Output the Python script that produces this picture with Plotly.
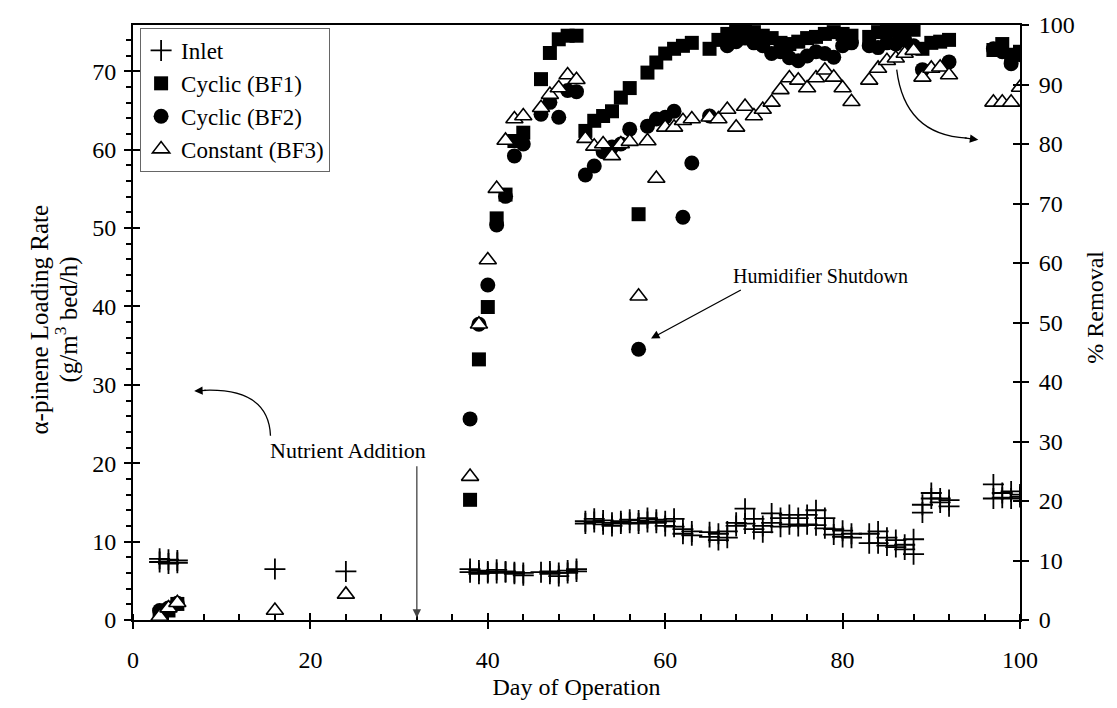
import plotly.graph_objects as go

# ---------------- data ----------------
inlet_day = [3, 3, 4, 4, 5, 5, 16, 24,
             38, 38, 39, 39, 40, 40, 41, 41, 42, 42, 43, 43, 44, 44,
             46, 47, 47, 48, 48, 49, 49, 50, 50,
             51, 51, 52, 52, 53, 53, 54, 54, 55, 55, 56, 56, 57, 57, 58, 58, 59, 59, 60, 60, 61, 61,
             62, 62, 63, 63, 65, 65, 66, 66, 67, 67, 68, 68, 69, 69, 70, 70, 71, 71,
             72, 72, 73, 73, 74, 74, 75, 75, 76, 76, 77, 77, 78, 78, 79, 79, 80, 80, 81, 81,
             83, 83, 84, 84, 85, 85, 86, 86, 87, 87, 88, 88, 89, 89, 90, 90, 91, 91, 92, 92,
             97, 97, 98, 98, 99, 99, 100, 100]
inlet_val = [7.8, 7.4, 7.7, 7.2, 7.6, 7.3, 6.5, 6.2,
             6.5, 6.1, 6.3, 5.9, 6.2, 6.0, 6.4, 6.0, 6.2, 6.1, 6.1, 5.9, 6.0, 5.7,
             6.1, 6.2, 5.9, 6.0, 5.6, 6.3, 6.0, 6.5, 6.2,
             12.6, 12.3, 12.9, 12.5, 12.7, 12.2, 12.4, 12.0, 12.6, 12.3, 12.8, 12.4, 12.7, 12.3, 13.0, 12.5, 12.8, 12.4, 12.6, 12.0, 12.9, 11.9,
             11.6, 11.0, 11.3, 10.8, 11.2, 10.6, 11.0, 10.2, 11.3, 10.5, 12.4, 12.0, 14.2, 12.3, 12.9, 11.6, 12.0, 11.2,
             13.6, 12.4, 13.0, 11.9, 13.4, 12.2, 13.0, 12.0, 13.4, 12.2, 14.0, 12.1, 13.0, 11.7, 11.6, 10.9, 11.4, 10.6, 11.0, 10.5,
             11.0, 9.8, 11.3, 9.8, 10.5, 9.5, 10.2, 9.3, 9.6, 9.0, 10.3, 8.4, 14.7, 13.7, 16.2, 15.5, 15.5, 15.0, 15.3, 14.5,
             17.3, 15.5, 16.2, 15.6, 16.4, 15.5, 16.0, 15.7]

bf1_day = [3, 4, 5, 38, 39, 40, 41, 42, 43, 44, 46, 47, 48, 49, 50,
           51, 52, 53, 54, 55, 56, 57, 58, 59, 60, 61, 62, 63,
           65, 66, 67, 68, 69, 70, 71, 72, 73, 74, 75, 76, 77, 78, 79, 80, 81,
           83, 84, 85, 86, 87, 88, 89, 90, 91, 92, 97, 98, 99, 100]
bf1_val = [0.8, 1.6, 2.7, 20.2, 43.8, 52.6, 67.5, 71.5, 80.5, 81.9, 90.9, 95.3, 97.6, 98.2, 98.2,
           82.2, 83.9, 84.7, 85.5, 87.8, 89.4, 68.2, 92.0, 93.7, 95.2, 96.0, 96.5, 97.0,
           96.0, 97.5, 98.5, 99.0, 99.2, 98.8, 98.2, 97.8, 97.0, 96.8, 97.2, 97.8, 98.0, 98.5, 98.8, 98.5, 98.2,
           98.0, 98.8, 99.2, 99.0, 99.5, 99.2, 96.0, 97.0, 97.2, 97.5, 95.8, 96.8, 95.0, 95.5]

bf2_day = [3, 4, 5, 38, 39, 40, 41, 42, 43, 44, 46, 47, 48, 49, 50,
           51, 52, 53, 54, 55, 56, 57, 58, 59, 60, 61, 62, 63,
           65, 67, 68, 69, 70, 71, 72, 73, 74, 75, 76, 77, 78, 79, 80, 81,
           83, 84, 85, 86, 87, 88, 89, 92, 97, 98, 99, 100]
bf2_val = [1.6, 2.0, 2.8, 33.8, 49.7, 56.3, 66.4, 71.2, 78.0, 80.0, 85.0, 87.0, 84.5, 89.0, 88.8,
           74.8, 76.3, 78.7, 79.5, 80.0, 82.5, 45.5, 83.0, 84.2, 84.5, 85.5, 67.7, 76.8,
           84.7, 96.5, 97.2, 97.8, 97.0, 96.5, 95.2, 95.5, 94.5, 94.0, 94.8, 95.5, 95.2, 94.6, 96.5, 97.0,
           96.5, 96.2, 97.0, 96.8, 97.5, 96.5, 92.5, 93.8, 96.0, 95.5, 93.5, 95.0]

bf3_day = [3, 4, 5, 16, 24, 38, 39, 40, 41, 42, 43, 44, 46, 47, 48, 49, 50,
           51, 52, 53, 54, 55, 56, 57, 58, 59, 60, 61, 62, 63,
           65, 66, 67, 68, 69, 70, 71, 72, 73, 74, 75, 76, 77, 78, 79, 80, 81,
           83, 84, 85, 86, 87, 88, 89, 90, 91, 92, 97, 98, 99, 100]
bf3_val = [0.6, 2.0, 2.9, 1.6, 4.3, 24.1, 49.7, 60.5, 72.5, 80.6, 84.2, 84.7, 86.1, 88.3, 89.4, 91.6, 90.8,
           80.9, 79.6, 80.0, 78.0, 80.0, 80.4, 54.4, 80.5, 74.2, 82.8, 82.8, 83.9, 84.2,
           84.5, 84.2, 85.8, 82.8, 86.3, 84.7, 85.8, 87.0, 89.1, 91.1, 90.7, 89.4, 91.1, 92.4, 91.2, 89.4, 87.1,
           90.7, 92.7, 94.0, 94.4, 95.2, 95.7, 91.2, 92.7, 92.9, 91.6, 87.0, 87.0, 87.0, 89.5]

x_ticks = [0, 20, 40, 60, 80, 100]
left_ticks = [0, 10, 20, 30, 40, 50, 60, 70]
right_ticks = [0, 10, 20, 30, 40, 50, 60, 70, 80, 90, 100]

FONT = "Liberation Serif"
LEFT_MAX = 75.9

fig = go.Figure()
fig.add_trace(go.Scatter(x=inlet_day, y=inlet_val, mode="markers", name="Inlet",
                         legendgroup="a",
                         marker=dict(symbol="cross-thin", size=15, color="black",
                                     line=dict(color="black", width=1.8)),
                         xaxis="x", yaxis="y"))
fig.add_trace(go.Scatter(x=bf1_day, y=bf1_val, mode="markers", name="Cyclic (BF1)",
                         legendgroup="b",
                         marker=dict(symbol="square", size=14, color="black",
                                     line=dict(width=0)),
                         xaxis="x", yaxis="y2"))
fig.add_trace(go.Scatter(x=bf2_day, y=bf2_val, mode="markers", name="Cyclic (BF2)",
                         legendgroup="c",
                         marker=dict(symbol="circle", size=15, color="black",
                                     line=dict(width=0)),
                         xaxis="x", yaxis="y2"))
fig.add_trace(go.Scatter(x=bf3_day, y=bf3_val, mode="markers", name="Constant (BF3)",
                         legendgroup="d",
                         marker=dict(symbol="triangle-up", size=15, color="white",
                                     line=dict(color="black", width=1.6)),
                         xaxis="x", yaxis="y2"))
# invisible helpers so that the tick-overlay axes are drawn
fig.add_trace(go.Scatter(x=[None], y=[None], xaxis="x2", yaxis="y3", showlegend=False, hoverinfo="skip"))
fig.add_trace(go.Scatter(x=[None], y=[None], xaxis="x2", yaxis="y4", showlegend=False, hoverinfo="skip"))

tickfont = dict(family=FONT, size=24, color="black")

fig.update_layout(
    width=1117, height=708,
    margin=dict(l=133, r=97, t=14, b=87),
    paper_bgcolor="white", plot_bgcolor="white",
    font=dict(family=FONT, size=22, color="black"),
    showlegend=True,
    legend=dict(x=0.008, y=0.995, xanchor="left", yanchor="top",
                bgcolor="white", bordercolor="#666666", borderwidth=1,
                font=dict(family=FONT, size=23, color="black"),
                tracegroupgap=0, itemwidth=30),
    xaxis=dict(range=[0, 100], tickvals=x_ticks, ticks="outside", ticklen=7, tickwidth=2,
               tickcolor="black", showline=True, linewidth=2, linecolor="black", mirror=True,
               showgrid=False, zeroline=False, tickfont=tickfont, ticklabelstandoff=10,
               minor=dict(ticks="inside", dtick=4, tick0=0, ticklen=6, tickwidth=1.5, tickcolor="black"),
               title=dict(text="Day of Operation", font=dict(family=FONT, size=24), standoff=6)),
    xaxis2=dict(range=[0, 100], overlaying="x", anchor="y", side="bottom", tickvals=x_ticks,
                ticks="inside", ticklen=7, tickwidth=2, tickcolor="black",
                showticklabels=False, showline=False, showgrid=False, zeroline=False),
    yaxis=dict(range=[0, LEFT_MAX], tickvals=left_ticks, ticks="outside", ticklen=7, tickwidth=2,
               tickcolor="black", showline=True, linewidth=2, linecolor="black",
               showgrid=False, zeroline=False, tickfont=tickfont, ticklabelstandoff=3,
               minor=dict(ticks="outside", dtick=2, tick0=0, ticklen=5, tickwidth=1.5, tickcolor="black")),
    yaxis2=dict(range=[0, 100], overlaying="y", side="right", anchor="x", tickvals=right_ticks,
                ticks="outside", ticklen=7, tickwidth=2, tickcolor="black",
                showline=True, linewidth=2, linecolor="black",
                showgrid=False, zeroline=False, tickfont=tickfont, ticklabelstandoff=5),
    yaxis3=dict(range=[0, LEFT_MAX], overlaying="y", side="left", anchor="x2", tickvals=left_ticks,
                ticks="inside", ticklen=7, tickwidth=2, tickcolor="black",
                showticklabels=False, showline=False, showgrid=False, zeroline=False),
    yaxis4=dict(range=[0, 100], overlaying="y", side="right", anchor="x2", tickvals=right_ticks,
                ticks="inside", ticklen=7, tickwidth=2, tickcolor="black",
                showticklabels=False, showline=False, showgrid=False, zeroline=False),
)

# curved arrows
fig.add_shape(type="path", xref="x", yref="y",
              path="M 15.5,23.5 Q 15.3,29.6 8.0,29.3",
              line=dict(color="black", width=1.3))
fig.add_shape(type="path", xref="x", yref="y2",
              path="M 86.1,92.5 Q 87.0,81.5 94.0,81.0",
              line=dict(color="black", width=1.3))

ann = []
# axis titles (rotated text placed beside the axes)
ann.append(dict(x=0, y=0.505, xref="paper", yref="paper", xanchor="center", yanchor="middle",
                xshift=-93, textangle=-90, showarrow=False, text="α-pinene Loading Rate",
                font=dict(family=FONT, size=25, color="black")))
ann.append(dict(x=0, y=0.505, xref="paper", yref="paper", xanchor="center", yanchor="middle",
                xshift=-66, textangle=-90, showarrow=False, text="(g/m<sup>3</sup> bed/h)",
                font=dict(family=FONT, size=25, color="black")))
ann.append(dict(x=1, y=0.525, xref="paper", yref="paper", xanchor="center", yanchor="middle",
                xshift=75, textangle=-90, showarrow=False, text="% Removal",
                font=dict(family=FONT, size=24, color="black")))
# arrowheads of curved arrows
ann.append(dict(x=6.9, y=29.2, xref="x", yref="y", ax=8.4, ay=29.3, axref="x", ayref="y",
                showarrow=True, arrowhead=2, arrowsize=1.3, arrowwidth=1.3, arrowcolor="black", text=""))
ann.append(dict(x=95.3, y=80.7, xref="x", yref="y2", ax=93.6, ay=81.05, axref="x", ayref="y2",
                showarrow=True, arrowhead=2, arrowsize=1.3, arrowwidth=1.3, arrowcolor="black", text=""))
# nutrient addition
ann.append(dict(x=32, y=0.3, xref="x", yref="y", ax=32, ay=19.8, axref="x", ayref="y",
                showarrow=True, arrowhead=2, arrowsize=1.3, arrowwidth=1.3, arrowcolor="#444444", text=""))
ann.append(dict(x=24.2, y=21.6, xref="x", yref="y", showarrow=False, text="Nutrient Addition",
                font=dict(family=FONT, size=22, color="black")))
# humidifier shutdown
ann.append(dict(x=58.4, y=47.3, xref="x", yref="y2", ax=68.7, ay=55.6, axref="x", ayref="y2",
                showarrow=True, arrowhead=2, arrowsize=1.3, arrowwidth=1.3, arrowcolor="black", text=""))
ann.append(dict(x=77.5, y=57.8, xref="x", yref="y2", showarrow=False, text="Humidifier Shutdown",
                font=dict(family=FONT, size=20, color="black")))
fig.update_layout(annotations=ann)

fig.write_html("out.html")
